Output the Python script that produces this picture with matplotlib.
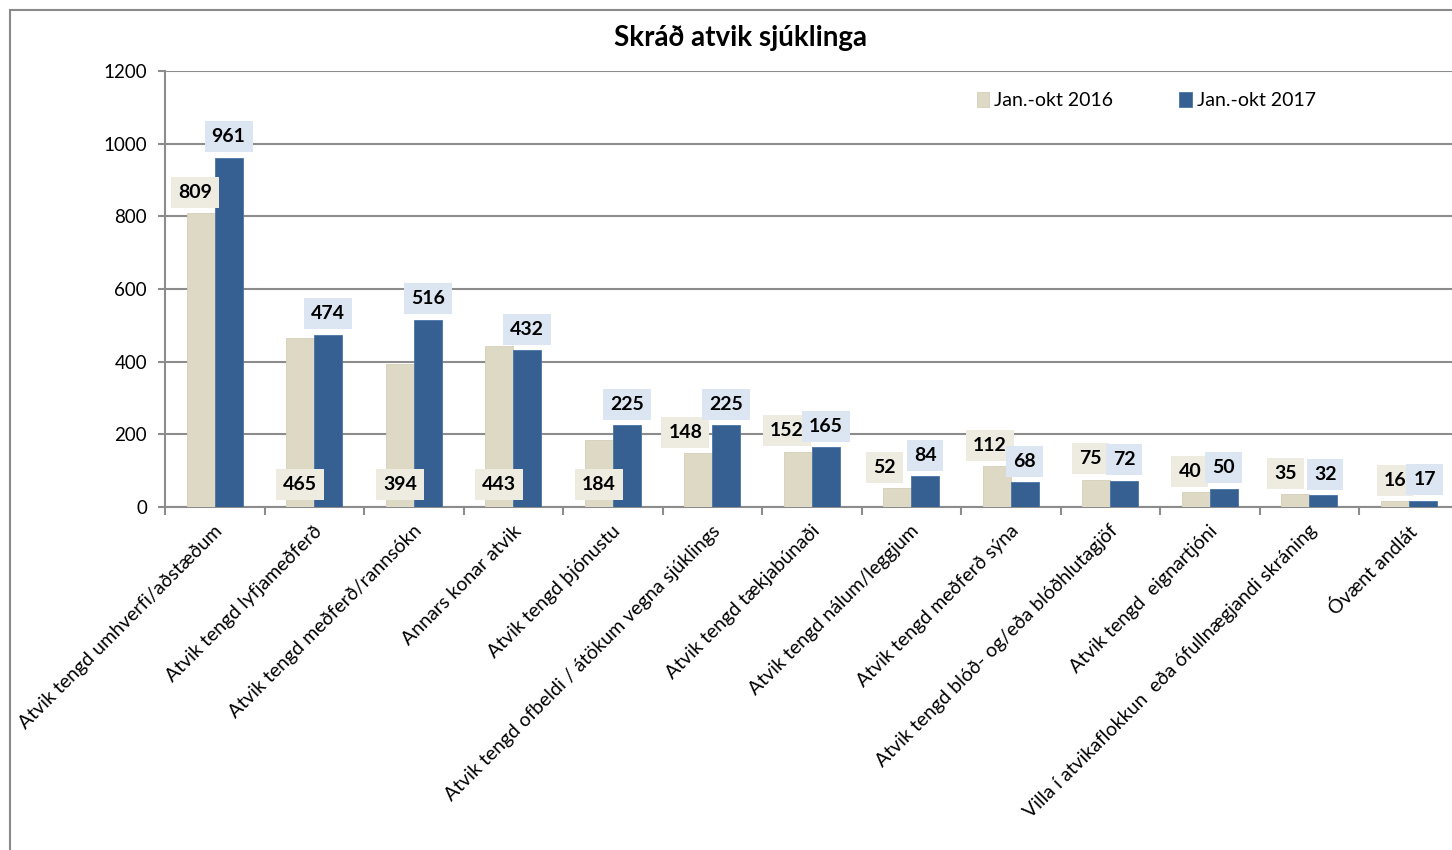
import matplotlib
matplotlib.use("Agg")
from matplotlib import pyplot as plt
from matplotlib.patches import Rectangle
import numpy as np

categories = [
    "Atvik tengd umhverfi/aðstæðum",
    "Atvik tengd lyfjameðferð",
    "Atvik tengd meðferð/rannsókn",
    "Annars konar atvik",
    "Atvik tengd þjónustu",
    "Atvik tengd ofbeldi / átökum vegna sjúklings",
    "Atvik tengd tækjabúnaði",
    "Atvik tengd nálum/leggjum",
    "Atvik tengd meðferð sýna",
    "Atvik tengd blóð- og/eða blóðhlutagjöf",
    "Atvik tengd  eignartjóni",
    "Villa í atvikaflokkun  eða ófullnægjandi skráning",
    "Óvænt andlát",
]
jan_okt_2016 = [809, 465, 394, 443, 184, 148, 152, 52, 112, 75, 40, 35, 16]
jan_okt_2017 = [961, 474, 516, 432, 225, 225, 165, 84, 68, 72, 50, 32, 17]
series_names = ["Jan.-okt 2016", "Jan.-okt 2017"]
y_ticks = [0, 200, 400, 600, 800, 1000, 1200]

# label placement as Excel left it: "base" = inside at bottom, otherwise above the bar
label_mode_2016 = ["end", "base", "base", "base", "base", "end", "end", "end", "end", "end", "end", "end", "end"]
label_dx_2016 = [-6, 0, 0, 0, 0, -13, -11, -13, -7, -6, -6, -10, 0]   # px
label_dx_2017 = [0, 0, 0, 0, 0, 0, 0, 0, 0, 0, 0, 2, 2]

C16 = "#DDD9C4"
C17 = "#376092"
BOX16 = "#EEECE1"
BOX17 = "#DCE6F2"
GRID = "#8C8C8C"

plt.rcParams["font.family"] = ["Lato", "DejaVu Sans"]

DPI = 100
W, H = 1452, 850
fig = plt.figure(figsize=(W / DPI, H / DPI), dpi=DPI)
PX = 72.0 / DPI  # points per pixel

# outer chart border (runs off the right and bottom of the image)
fig.patches.append(Rectangle((10 / W, -0.1), 1.2, 1 - 10 / H + 0.1, transform=fig.transFigure,
                             fill=False, edgecolor="#8A8A8A", linewidth=1.5))

left, right = 165 / W, 1458.5 / W
bottom, top = 1 - 507 / H, 1 - 71 / H
ax = fig.add_axes([left, bottom, right - left, top - bottom])

n = len(categories)
x = np.arange(n)
bw = 0.28
b16 = ax.bar(x - bw / 2, jan_okt_2016, bw, color=C16, edgecolor="#D3CFB8", linewidth=0.6,
             label=series_names[0], zorder=3)
b17 = ax.bar(x + bw / 2, jan_okt_2017, bw, color=C17, edgecolor="#4A74A8", linewidth=0.6,
             label=series_names[1], zorder=3)

ax.set_xlim(-0.5, n - 0.5)
ax.set_ylim(0, 1200)
ax.set_yticks(y_ticks)
ax.yaxis.grid(True, color=GRID, linewidth=1.5, zorder=0)
ax.set_axisbelow(True)

for s in ["top", "right"]:
    ax.spines[s].set_visible(False)
for s in ["left", "bottom"]:
    ax.spines[s].set_color(GRID)
    ax.spines[s].set_linewidth(1.5)

ax.tick_params(axis="y", length=5, width=1.5, color=GRID, labelsize=13.5, pad=8, direction="out")
ax.set_xticks(x)
ax.set_xticklabels(categories, rotation=45, ha="right", rotation_mode="anchor", fontsize=14)
ax.tick_params(axis="x", which="major", length=0, pad=11)
ax.set_xticks(np.arange(n + 1) - 0.5, minor=True)
ax.tick_params(axis="x", which="minor", length=6, width=1.5, color=GRID, direction="out")
for lbl in ax.get_xticklabels():
    lbl.set_transform(lbl.get_transform() + matplotlib.transforms.ScaledTranslation(-1 / DPI, 0, fig.dpi_scale_trans))


def put_labels(bars, values, modes, dxs, box):
    for rect, v, m, dx in zip(bars, values, modes, dxs):
        cx = rect.get_x() + rect.get_width() / 2
        if m == "base":
            xy, dy = (cx, 0), 23
        else:
            xy, dy = (cx, v), 21
        ax.annotate(str(v), xy=xy, xytext=(dx * PX, dy * PX), textcoords="offset points",
                    ha="center", va="center", fontsize=14, fontweight="bold", color="black",
                    bbox=dict(boxstyle="square,pad=0.36", facecolor=box, edgecolor="none"),
                    zorder=5, annotation_clip=False)


put_labels(b16, jan_okt_2016, label_mode_2016, label_dx_2016, BOX16)
put_labels(b17, jan_okt_2017, ["end"] * n, label_dx_2017, BOX17)

fig.text(740 / W, 1 - 38 / H, "Skráð atvik sjúklinga", ha="center", va="center",
         fontsize=20, fontweight="bold")

ax.legend(loc="upper left", bbox_to_anchor=(969 / W, 1 - 84 / H), bbox_transform=fig.transFigure,
          ncol=2, frameon=False, fontsize=14, handlelength=0.65, handleheight=0.85,
          handletextpad=0.25, columnspacing=3.4, borderaxespad=0)

fig.savefig("out.png", dpi=DPI)
